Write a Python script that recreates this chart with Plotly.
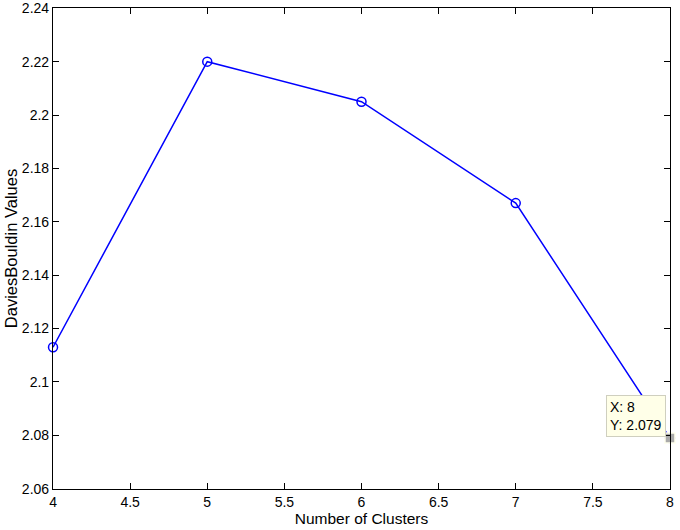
import plotly.graph_objects as go

clusters = [4, 5, 6, 7, 8]
db_values = [2.113, 2.220, 2.205, 2.167, 2.079]
tip_x = 8
tip_y = 2.079
x_ticks = [4, 4.5, 5, 5.5, 6, 6.5, 7, 7.5, 8]
x_labels = ["4", "4.5", "5", "5.5", "6", "6.5", "7", "7.5", "8"]
y_ticks = [2.06, 2.08, 2.1, 2.12, 2.14, 2.16, 2.18, 2.2, 2.22, 2.24]
y_labels = ["2.06", "2.08", "2.1", "2.12", "2.14", "2.16", "2.18", "2.2", "2.22", "2.24"]

FONT = "Liberation Sans, Arial, Helvetica, sans-serif"

fig = go.Figure()
fig.add_trace(go.Scatter(
    x=clusters, y=db_values, mode="lines+markers",
    line=dict(color="#0000ff", width=1.5),
    marker=dict(symbol="circle-open", size=9, color="#0000ff", line=dict(width=1.5)),
    cliponaxis=False, showlegend=False, hoverinfo="skip"))
fig.add_trace(go.Scatter(
    x=[tip_x], y=[tip_y], mode="markers",
    marker=dict(symbol="square", size=10, color="#aaaaaa", line=dict(color="#ffffee", width=1.5)),
    cliponaxis=False, showlegend=False, hoverinfo="skip"))
fig.add_annotation(
    x=tip_x, y=tip_y, xref="x", yref="y",
    text=f"X: {tip_x}<br>Y: {tip_y}", showarrow=False,
    xanchor="right", yanchor="bottom", xshift=-4, yshift=1,
    align="left", bgcolor="#ffffe8", bordercolor="#cfcfbf", borderwidth=1, borderpad=3,
    font=dict(family=FONT, size=14, color="black"))

axis_common = dict(
    showgrid=False, zeroline=False, showline=True, linecolor="black", linewidth=1.2,
    mirror="ticks", ticks="inside", ticklen=6, tickcolor="black", tickwidth=1,
    automargin=False,
    tickfont=dict(family=FONT, size=14, color="black"))

fig.update_xaxes(range=[3.9999, 8.0001], tickvals=x_ticks, ticktext=x_labels,
                 title=dict(text="Number of Clusters", standoff=0,
                            font=dict(family=FONT, size=15.5, color="black")),
                 **axis_common)
fig.update_yaxes(range=[2.0599, 2.2401], tickvals=y_ticks, ticktext=y_labels,
                 title=dict(text="DaviesBouldin Values", standoff=0,
                            font=dict(family=FONT, size=16.5, color="black")),
                 **axis_common)

fig.update_layout(width=680, height=530, margin=dict(l=53, r=10, t=8, b=41),
                  plot_bgcolor="white", paper_bgcolor="white")
fig.write_html("out.html", config={"displayModeBar": False},
               post_script="document.body.style.margin='0px';document.body.style.overflow='hidden';")
